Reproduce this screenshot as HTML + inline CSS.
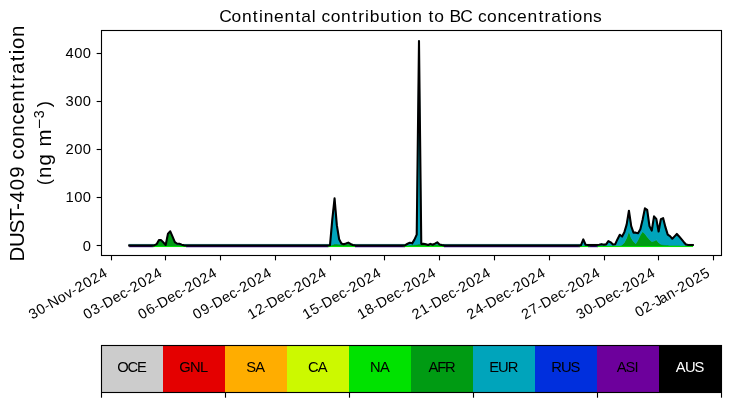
<!DOCTYPE html>
<html><head><meta charset="utf-8"><title>Continental contribution to BC concentrations</title>
<style>html,body{margin:0;padding:0;background:#fff;overflow:hidden}svg{display:block;will-change:transform}text{font-family:"Liberation Sans",sans-serif;white-space:pre}</style></head>
<body>
<svg width="730" height="402" viewBox="0 0 730 402">
<rect width="730" height="402" fill="#fff"/>
<line x1="129.19" y1="244.45" x2="692.82" y2="244.45" stroke="#2a7f88" stroke-width="1.0" stroke-linecap="square"/>
<line x1="129.19" y1="246.60" x2="153.50" y2="246.60" stroke="#2a0070" stroke-width="1.2"/>
<line x1="186.00" y1="246.60" x2="328.50" y2="246.60" stroke="#2a0070" stroke-width="1.2"/>
<line x1="355.00" y1="246.60" x2="405.00" y2="246.60" stroke="#2a0070" stroke-width="1.2"/>
<line x1="444.00" y1="246.60" x2="580.00" y2="246.60" stroke="#2a0070" stroke-width="1.2"/>
<line x1="588.00" y1="246.60" x2="598.00" y2="246.60" stroke="#2a0070" stroke-width="1.2"/>
<polygon fill="#009b13" stroke="#009b13" stroke-width="0.6" points="152.01,245.40 154.29,245.40 156.57,244.80 158.85,240.80 161.14,240.80 163.42,243.20 165.70,245.40 167.98,234.30 170.26,232.00 172.55,237.20 174.83,242.70 177.11,244.40 179.39,244.40 181.67,245.30 183.96,245.40 186.24,245.40 186.24,246.40 152.01,246.40"/>
<polygon fill="#00a4bb" stroke="#00a4bb" stroke-width="0.6" points="152.01,245.40 154.29,245.30 156.57,244.00 158.85,240.00 161.14,240.00 163.42,242.40 165.70,244.80 167.98,233.50 170.26,231.20 172.55,236.40 174.83,241.90 177.11,243.60 179.39,243.60 181.67,244.50 183.96,245.20 186.24,245.40 186.24,245.40 183.96,245.40 181.67,245.30 179.39,244.40 177.11,244.40 174.83,242.70 172.55,237.20 170.26,232.00 167.98,234.30 165.70,245.40 163.42,243.20 161.14,240.80 158.85,240.80 156.57,244.80 154.29,245.40 152.01,245.40"/>
<polygon fill="#009b13" stroke="#009b13" stroke-width="0.6" points="327.72,245.40 330.00,245.40 332.28,244.80 334.56,244.00 336.84,244.00 339.12,244.20 341.41,244.30 343.69,244.40 345.97,244.30 348.25,243.60 350.53,244.50 352.82,245.20 355.10,245.40 355.10,246.40 327.72,246.40"/>
<polygon fill="#00a4bb" stroke="#00a4bb" stroke-width="0.6" points="327.72,245.40 330.00,245.00 332.28,219.50 334.56,198.20 336.84,225.00 339.12,239.00 341.41,243.30 343.69,244.00 345.97,243.40 348.25,242.50 350.53,243.80 352.82,244.80 355.10,245.20 355.10,245.40 352.82,245.20 350.53,244.50 348.25,243.60 345.97,244.30 343.69,244.40 341.41,244.30 339.12,244.20 336.84,244.00 334.56,244.00 332.28,244.80 330.00,245.40 327.72,245.40"/>
<polygon fill="#009b13" stroke="#009b13" stroke-width="0.6" points="403.02,245.40 405.30,245.40 407.58,245.20 409.86,245.00 412.15,245.00 414.43,244.80 416.71,244.50 418.99,244.00 421.27,244.30 423.56,244.50 425.84,244.50 428.12,244.80 430.40,244.60 432.68,244.80 434.96,244.60 437.25,244.20 439.53,244.80 441.81,245.20 444.09,245.40 444.09,246.40 403.02,246.40"/>
<polygon fill="#00a4bb" stroke="#00a4bb" stroke-width="0.6" points="403.02,245.40 405.30,245.00 407.58,243.60 409.86,242.60 412.15,243.20 414.43,239.50 416.71,234.50 418.99,40.80 421.27,243.70 423.56,243.60 425.84,244.20 428.12,244.80 430.40,243.70 432.68,244.60 434.96,243.50 437.25,242.20 439.53,244.30 441.81,244.90 444.09,245.20 444.09,245.40 441.81,245.20 439.53,244.80 437.25,244.20 434.96,244.60 432.68,244.80 430.40,244.60 428.12,244.80 425.84,244.50 423.56,244.50 421.27,244.30 418.99,244.00 416.71,244.50 414.43,244.80 412.15,245.00 409.86,245.00 407.58,245.20 405.30,245.40 403.02,245.40"/>
<polygon fill="#009b13" stroke="#009b13" stroke-width="0.6" points="578.72,245.40 581.01,245.40 583.29,245.40 585.57,245.40 587.85,245.40 590.13,245.40 590.13,246.40 578.72,246.40"/>
<polygon fill="#00a4bb" stroke="#00a4bb" stroke-width="0.6" points="578.72,245.40 581.01,245.00 583.29,239.20 585.57,244.60 587.85,244.90 590.13,245.00 590.13,245.40 587.85,245.40 585.57,245.40 583.29,245.40 581.01,245.40 578.72,245.40"/>
<polygon fill="#009b13" stroke="#009b13" stroke-width="0.6" points="596.98,245.40 599.26,245.40 601.54,245.40 603.83,245.40 606.11,245.40 608.39,245.40 610.67,245.40 612.95,245.40 615.23,245.40 617.52,245.40 619.80,245.40 622.08,245.00 624.36,242.50 626.64,238.00 628.93,231.10 631.21,238.00 633.49,241.50 635.77,243.80 638.05,239.80 640.34,235.00 642.62,231.60 644.90,233.80 647.18,236.80 649.46,239.60 651.75,241.50 654.03,241.00 656.31,239.80 658.59,242.50 660.87,244.30 663.15,244.80 665.44,245.00 667.72,245.10 670.00,245.20 672.28,245.20 674.56,245.30 676.85,245.30 679.13,245.30 681.41,245.40 683.69,245.40 685.97,245.40 688.26,245.40 690.54,245.40 692.82,245.40 692.82,246.40 596.98,246.40"/>
<polygon fill="#00a4bb" stroke="#00a4bb" stroke-width="0.6" points="596.98,244.90 599.26,244.60 601.54,244.00 603.83,244.50 606.11,244.30 608.39,240.90 610.67,242.20 612.95,244.40 615.23,244.00 617.52,239.00 619.80,234.60 622.08,236.40 624.36,232.00 626.64,224.50 628.93,210.60 631.21,226.00 633.49,232.50 635.77,232.50 638.05,233.00 640.34,229.00 642.62,219.50 644.90,208.20 647.18,209.70 649.46,226.00 651.75,230.50 654.03,216.20 656.31,218.70 658.59,231.40 660.87,219.00 663.15,218.00 665.44,227.00 667.72,234.50 670.00,236.00 672.28,238.60 674.56,236.20 676.85,233.80 679.13,236.30 681.41,239.00 683.69,241.80 685.97,244.40 688.26,244.80 690.54,244.80 692.82,244.80 692.82,245.40 690.54,245.40 688.26,245.40 685.97,245.40 683.69,245.40 681.41,245.40 679.13,245.30 676.85,245.30 674.56,245.30 672.28,245.20 670.00,245.20 667.72,245.10 665.44,245.00 663.15,244.80 660.87,244.30 658.59,242.50 656.31,239.80 654.03,241.00 651.75,241.50 649.46,239.60 647.18,236.80 644.90,233.80 642.62,231.60 640.34,235.00 638.05,239.80 635.77,243.80 633.49,241.50 631.21,238.00 628.93,231.10 626.64,238.00 624.36,242.50 622.08,245.00 619.80,245.40 617.52,245.40 615.23,245.40 612.95,245.40 610.67,245.40 608.39,245.40 606.11,245.40 603.83,245.40 601.54,245.40 599.26,245.40 596.98,245.40"/>
<line x1="153.5" y1="246.55" x2="186" y2="246.55" stroke="#00e200" stroke-width="1.0"/>
<line x1="328.5" y1="246.55" x2="355" y2="246.55" stroke="#00e200" stroke-width="1.0"/>
<line x1="405" y1="246.55" x2="444" y2="246.55" stroke="#00e200" stroke-width="1.0"/>
<line x1="580" y1="246.55" x2="588" y2="246.55" stroke="#00e200" stroke-width="1.0"/>
<line x1="598" y1="246.55" x2="693" y2="246.55" stroke="#00e200" stroke-width="1.0"/>
<polyline fill="none" stroke="#000" stroke-width="2.08" stroke-linejoin="round" stroke-linecap="square" points="129.19,245.55 131.47,245.55 133.75,245.55 136.04,245.55 138.32,245.55 140.60,245.55 142.88,245.55 145.16,245.55 147.45,245.55 149.73,245.55 152.01,245.55 154.29,245.45 156.57,244.15 158.85,240.15 161.14,240.15 163.42,242.55 165.70,244.95 167.98,233.65 170.26,231.35 172.55,236.55 174.83,242.05 177.11,243.75 179.39,243.75 181.67,244.65 183.96,245.35 186.24,245.55 188.52,245.55 190.80,245.55 193.08,245.55 195.37,245.55 197.65,245.55 199.93,245.55 202.21,245.55 204.49,245.55 206.77,245.55 209.06,245.55 211.34,245.55 213.62,245.55 215.90,245.55 218.18,245.55 220.47,245.55 222.75,245.55 225.03,245.55 227.31,245.55 229.59,245.55 231.88,245.55 234.16,245.55 236.44,245.55 238.72,245.55 241.00,245.55 243.28,245.55 245.57,245.55 247.85,245.55 250.13,245.55 252.41,245.55 254.69,245.55 256.98,245.55 259.26,245.55 261.54,245.55 263.82,245.55 266.10,245.55 268.39,245.55 270.67,245.55 272.95,245.55 275.23,245.55 277.51,245.55 279.80,245.55 282.08,245.55 284.36,245.55 286.64,245.55 288.92,245.55 291.20,245.55 293.49,245.55 295.77,245.55 298.05,245.55 300.33,245.55 302.61,245.55 304.90,245.55 307.18,245.55 309.46,245.55 311.74,245.55 314.02,245.55 316.31,245.55 318.59,245.55 320.87,245.55 323.15,245.55 325.43,245.55 327.72,245.55 330.00,245.15 332.28,219.65 334.56,198.35 336.84,225.15 339.12,239.15 341.41,243.45 343.69,244.15 345.97,243.55 348.25,242.65 350.53,243.95 352.82,244.95 355.10,245.35 357.38,245.55 359.66,245.55 361.94,245.55 364.23,245.55 366.51,245.55 368.79,245.55 371.07,245.55 373.35,245.55 375.64,245.55 377.92,245.55 380.20,245.55 382.48,245.55 384.76,245.55 387.04,245.55 389.33,245.55 391.61,245.55 393.89,245.55 396.17,245.55 398.45,245.55 400.74,245.55 403.02,245.55 405.30,245.15 407.58,243.75 409.86,242.75 412.15,243.35 414.43,239.65 416.71,234.65 418.99,40.95 421.27,243.85 423.56,243.75 425.84,244.35 428.12,244.95 430.40,243.85 432.68,244.75 434.96,243.65 437.25,242.35 439.53,244.45 441.81,245.05 444.09,245.35 446.37,245.55 448.66,245.55 450.94,245.55 453.22,245.55 455.50,245.55 457.78,245.55 460.07,245.55 462.35,245.55 464.63,245.55 466.91,245.55 469.19,245.55 471.47,245.55 473.76,245.55 476.04,245.55 478.32,245.55 480.60,245.55 482.88,245.55 485.17,245.55 487.45,245.55 489.73,245.55 492.01,245.55 494.29,245.55 496.58,245.55 498.86,245.55 501.14,245.55 503.42,245.55 505.70,245.55 507.99,245.55 510.27,245.55 512.55,245.55 514.83,245.55 517.11,245.55 519.39,245.55 521.68,245.55 523.96,245.55 526.24,245.55 528.52,245.55 530.80,245.55 533.09,245.55 535.37,245.55 537.65,245.55 539.93,245.55 542.21,245.55 544.50,245.55 546.78,245.55 549.06,245.55 551.34,245.55 553.62,245.55 555.91,245.55 558.19,245.55 560.47,245.55 562.75,245.55 565.03,245.55 567.31,245.55 569.60,245.55 571.88,245.55 574.16,245.55 576.44,245.55 578.72,245.55 581.01,245.15 583.29,239.35 585.57,244.75 587.85,245.05 590.13,245.15 592.42,245.15 594.70,245.15 596.98,245.05 599.26,244.75 601.54,244.15 603.83,244.65 606.11,244.45 608.39,241.05 610.67,242.35 612.95,244.55 615.23,244.15 617.52,239.15 619.80,234.75 622.08,236.55 624.36,232.15 626.64,224.65 628.93,210.75 631.21,226.15 633.49,232.65 635.77,232.65 638.05,233.15 640.34,229.15 642.62,219.65 644.90,208.35 647.18,209.85 649.46,226.15 651.75,230.65 654.03,216.35 656.31,218.85 658.59,231.55 660.87,219.15 663.15,218.15 665.44,227.15 667.72,234.65 670.00,236.15 672.28,238.75 674.56,236.35 676.85,233.95 679.13,236.45 681.41,239.15 683.69,241.95 685.97,244.55 688.26,244.95 690.54,244.95 692.82,244.95"/>
<rect x="101.5" y="30.5" width="620" height="225" fill="none" stroke="#000" stroke-width="1.11"/>
<line x1="96.64" y1="245.5" x2="101.5" y2="245.5" stroke="#000" stroke-width="1.11"/>
<line x1="96.64" y1="197.5" x2="101.5" y2="197.5" stroke="#000" stroke-width="1.11"/>
<line x1="96.64" y1="149.5" x2="101.5" y2="149.5" stroke="#000" stroke-width="1.11"/>
<line x1="96.64" y1="101.5" x2="101.5" y2="101.5" stroke="#000" stroke-width="1.11"/>
<line x1="96.64" y1="53.5" x2="101.5" y2="53.5" stroke="#000" stroke-width="1.11"/>
<line x1="111.5" y1="255.5" x2="111.5" y2="260.36" stroke="#000" stroke-width="1.11"/>
<line x1="165.5" y1="255.5" x2="165.5" y2="260.36" stroke="#000" stroke-width="1.11"/>
<line x1="220.5" y1="255.5" x2="220.5" y2="260.36" stroke="#000" stroke-width="1.11"/>
<line x1="275.5" y1="255.5" x2="275.5" y2="260.36" stroke="#000" stroke-width="1.11"/>
<line x1="330.5" y1="255.5" x2="330.5" y2="260.36" stroke="#000" stroke-width="1.11"/>
<line x1="384.5" y1="255.5" x2="384.5" y2="260.36" stroke="#000" stroke-width="1.11"/>
<line x1="439.5" y1="255.5" x2="439.5" y2="260.36" stroke="#000" stroke-width="1.11"/>
<line x1="494.5" y1="255.5" x2="494.5" y2="260.36" stroke="#000" stroke-width="1.11"/>
<line x1="549.5" y1="255.5" x2="549.5" y2="260.36" stroke="#000" stroke-width="1.11"/>
<line x1="604.5" y1="255.5" x2="604.5" y2="260.36" stroke="#000" stroke-width="1.11"/>
<line x1="658.5" y1="255.5" x2="658.5" y2="260.36" stroke="#000" stroke-width="1.11"/>
<line x1="713.5" y1="255.5" x2="713.5" y2="260.36" stroke="#000" stroke-width="1.11"/>
<text x="219.16 231.52 241.90 252.87 258.94 263.63 274.04 284.45 295.42 301.37 311.70 316.18 321.47 330.67 341.05 352.02 358.23 364.94 369.63 380.21 391.18 397.25 401.75 412.13 422.49 428.40 434.34 444.52 449.49 460.25 472.59 477.89 487.08 497.46 507.81 517.03 527.44 538.41 544.62 551.21 562.01 568.08 572.58 582.96 593.08" y="21.77" font-size="17.42">Continental contribution to BC concentrations</text>
<text x="82.72" y="251.15" font-size="14.72">0</text>
<text x="65.58 74.15 82.72" y="202.20" font-size="14.72">100</text>
<text x="65.58 74.15 82.72" y="154.25" font-size="14.72">200</text>
<text x="65.58 74.15 82.72" y="106.31" font-size="14.72">300</text>
<text x="65.58 74.15 82.72" y="58.36" font-size="14.72">400</text>
<text transform="translate(31.82 319.86) rotate(-30)" x="0.41 9.12 17.52 22.35 32.83 41.46 48.79 54.03 62.73 71.44 80.14" y="0" font-size="14.38">30-Nov-2024</text>
<text transform="translate(86.48 319.92) rotate(-30)" x="0.41 9.12 17.52 22.50 33.15 41.52 48.93 54.17 62.87 71.58 80.28" y="0" font-size="14.38">03-Dec-2024</text>
<text transform="translate(141.24 319.92) rotate(-30)" x="0.41 9.12 17.52 22.50 33.15 41.52 48.93 54.17 62.87 71.58 80.28" y="0" font-size="14.38">06-Dec-2024</text>
<text transform="translate(196.01 319.92) rotate(-30)" x="0.41 9.12 17.52 22.50 33.15 41.52 48.93 54.17 62.87 71.58 80.28" y="0" font-size="14.38">09-Dec-2024</text>
<text transform="translate(250.77 319.92) rotate(-30)" x="0.41 9.12 17.52 22.50 33.15 41.52 48.93 54.17 62.87 71.58 80.28" y="0" font-size="14.38">12-Dec-2024</text>
<text transform="translate(305.54 319.92) rotate(-30)" x="0.41 9.12 17.52 22.50 33.15 41.52 48.93 54.17 62.87 71.58 80.28" y="0" font-size="14.38">15-Dec-2024</text>
<text transform="translate(360.31 319.92) rotate(-30)" x="0.41 9.12 17.52 22.50 33.15 41.52 48.93 54.17 62.87 71.58 80.28" y="0" font-size="14.38">18-Dec-2024</text>
<text transform="translate(415.07 319.92) rotate(-30)" x="0.41 9.12 17.52 22.50 33.15 41.52 48.93 54.17 62.87 71.58 80.28" y="0" font-size="14.38">21-Dec-2024</text>
<text transform="translate(469.84 319.92) rotate(-30)" x="0.41 9.12 17.52 22.50 33.15 41.52 48.93 54.17 62.87 71.58 80.28" y="0" font-size="14.38">24-Dec-2024</text>
<text transform="translate(524.61 319.92) rotate(-30)" x="0.41 9.12 17.52 22.50 33.15 41.52 48.93 54.17 62.87 71.58 80.28" y="0" font-size="14.38">27-Dec-2024</text>
<text transform="translate(579.37 319.92) rotate(-30)" x="0.41 9.12 17.52 22.50 33.15 41.52 48.93 54.17 62.87 71.58 80.28" y="0" font-size="14.38">30-Dec-2024</text>
<text transform="translate(638.20 317.58) rotate(-30)" x="0.41 9.12 17.52 21.58 27.39 35.92 44.31 49.55 58.25 66.95 75.66" y="0" font-size="14.38">02-Jan-2025</text>
<text transform="translate(24.30 261.70) rotate(-90)" x="0.11 14.72 28.57 41.25 51.75 59.16 71.54 83.91 96.02 102.19 112.91 125.02 137.10 147.86 160.00 172.81 180.06 187.74 200.35 207.43 212.67 224.78" y="0" font-size="20.42">DUST-409 concentration</text>
<g transform="translate(51.30 185.97) rotate(-90)">
<text x="3.79" y="-1.30" font-size="18.57" text-anchor="middle">(</text>
<text x="8.07 20.40 32.51 39.40" y="0.00" font-size="20.42">ng m</text>
<text transform="translate(61.76 -6.84) scale(1.23 1)" x="0" y="0" font-size="14.29" text-anchor="middle">−</text>
<text x="71.80" y="-7.44" font-size="14.29" text-anchor="middle">3</text>
<text x="81.95" y="-1.30" font-size="18.57" text-anchor="middle">)</text>
</g>
<rect x="101.0" y="345.5" width="62" height="47.0" fill="#cccccc"/>
<rect x="163.0" y="345.5" width="62" height="47.0" fill="#e40000"/>
<rect x="225.0" y="345.5" width="62" height="47.0" fill="#ffad00"/>
<rect x="287.0" y="345.5" width="62" height="47.0" fill="#ccf900"/>
<rect x="349.0" y="345.5" width="62" height="47.0" fill="#00e200"/>
<rect x="411.0" y="345.5" width="62" height="47.0" fill="#009b13"/>
<rect x="473.0" y="345.5" width="62" height="47.0" fill="#00a4bb"/>
<rect x="535.0" y="345.5" width="62" height="47.0" fill="#002fdd"/>
<rect x="597.0" y="345.5" width="62" height="47.0" fill="#6d009c"/>
<rect x="659.0" y="345.5" width="62.5" height="47.0" fill="#000000"/>
<rect x="101.5" y="345.5" width="620" height="47.0" fill="none" stroke="#000" stroke-width="1.11"/>
<line x1="101.5" y1="392.5" x2="101.5" y2="397.70" stroke="#000" stroke-width="1.11"/>
<line x1="225.5" y1="392.5" x2="225.5" y2="397.70" stroke="#000" stroke-width="1.11"/>
<line x1="349.5" y1="392.5" x2="349.5" y2="397.70" stroke="#000" stroke-width="1.11"/>
<line x1="473.5" y1="392.5" x2="473.5" y2="397.70" stroke="#000" stroke-width="1.11"/>
<line x1="597.5" y1="392.5" x2="597.5" y2="397.70" stroke="#000" stroke-width="1.11"/>
<line x1="721.5" y1="392.5" x2="721.5" y2="397.70" stroke="#000" stroke-width="1.11"/>
<text x="117.19 127.59 136.94" y="371.58" font-size="14.72">OCE</text>
<text x="179.35 190.01 199.99" y="371.58" font-size="14.72">GNL</text>
<text x="246.20 255.34" y="371.58" font-size="14.72">SA</text>
<text x="307.94 317.64" y="371.58" font-size="14.72">CA</text>
<text x="369.94 379.98" y="371.58" font-size="14.72">NA</text>
<text x="428.38 437.27 445.03" y="371.58" font-size="14.72">AFR</text>
<text x="489.33 498.12 507.73" y="371.58" font-size="14.72">EUR</text>
<text x="551.34 560.95 570.55" y="371.58" font-size="14.72">RUS</text>
<text x="616.68 625.56 634.60" y="371.58" font-size="14.72">ASI</text>
<text x="675.73 684.88 694.48" y="371.58" font-size="14.72" fill="#fff">AUS</text>
</svg>
</body></html>
